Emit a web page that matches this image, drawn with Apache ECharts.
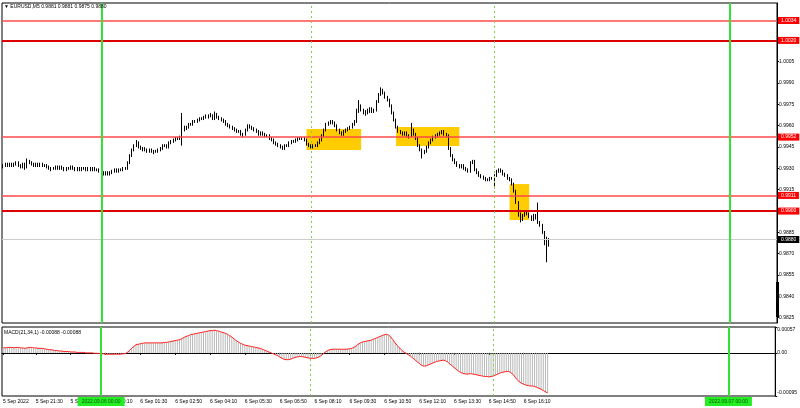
<!DOCTYPE html>
<html><head><meta charset="utf-8">
<script src="https://cdn.jsdelivr.net/npm/echarts@6/dist/echarts.min.js"></script>
<style>html,body{margin:0;padding:0;background:#fff}#c{width:800px;height:408px}</style>
</head><body><div id="c"></div><script>
// ---------- DATA ----------
const symbol = 'EURUSD,M5';
const firstBarUTC = [2022, 8, 5, 20, 15]; // 5 Sep 2022 20:15, M5 bars
const barCount = 355;                      // bars the time axis spans (incl. empty future)

const opens = [
0.9931,0.9932,0.9933,0.9932,0.9933,0.9932,0.9933,0.9934,0.9932,0.9931,
0.9933,0.9930,0.9935,0.9934,0.9933,0.9932,0.9933,0.9932,0.9933,0.9932,
0.9932,0.9931,0.9930,0.9930,0.9930,0.9931,0.9930,0.9931,0.9930,0.9929,
0.9930,0.9930,0.9931,0.9930,0.9929,0.9930,0.9929,0.9930,0.9930,0.9929,
0.9930,0.9929,0.9930,0.9929,0.9929,0.9928,0.9927,0.9926,0.9927,0.9926,
0.9927,0.9928,0.9929,0.9928,0.9929,0.9929,0.9930,0.9930,0.9934,0.9939,
0.9943,0.9946,0.9948,0.9945,0.9944,0.9944,0.9943,0.9942,0.9943,0.9942,
0.9942,0.9942,0.9943,0.9944,0.9946,0.9946,0.9945,0.9948,0.9949,0.9950,
0.9951,0.9951,0.9952,0.9957,0.9958,0.9959,0.9961,0.9961,0.9963,0.9963,
0.9964,0.9965,0.9965,0.9966,0.9966,0.9967,0.9967,0.9965,0.9968,0.9966,
0.9965,0.9964,0.9963,0.9961,0.9960,0.9959,0.9958,0.9957,0.9956,0.9956,
0.9954,0.9954,0.9957,0.9960,0.9959,0.9958,0.9957,0.9956,0.9954,0.9955,
0.9954,0.9953,0.9953,0.9951,0.9950,0.9948,0.9947,0.9946,0.9945,0.9944,
0.9946,0.9946,0.9948,0.9949,0.9949,0.9950,0.9951,0.9951,0.9951,0.9950,
0.9947,0.9946,0.9945,0.9946,0.9946,0.9948,0.9950,0.9953,0.9957,0.9961,
0.9962,0.9963,0.9962,0.9960,0.9957,0.9955,0.9954,0.9956,0.9957,0.9958,
0.9959,0.9961,0.9963,0.9970,0.9974,0.9971,0.9970,0.9969,0.9970,0.9972,
0.9970,0.9971,0.9977,0.9982,0.9985,0.9983,0.9980,0.9978,0.9974,0.9969,
0.9964,0.9959,0.9956,0.9955,0.9954,0.9955,0.9953,0.9953,0.9957,0.9954,
0.9951,0.9946,0.9943,0.9941,0.9942,0.9945,0.9948,0.9950,0.9952,0.9953,
0.9954,0.9955,0.9956,0.9954,0.9953,0.9944,0.9939,0.9936,0.9934,0.9932,
0.9931,0.9932,0.9930,0.9929,0.9928,0.9934,0.9935,0.9929,0.9927,0.9925,
0.9924,0.9923,0.9922,0.9922,0.9923,0.9923,0.9925,0.9928,0.9929,0.9928,
0.9926,0.9925,0.9923,0.9922,0.9919,0.9914,0.9906,0.9898,0.9894,0.9897,
0.9899,0.9898,0.9896,0.9894,0.9897,0.9895,0.9892,0.9890,0.9885,0.9878,
0.9881];
const highs = [
0.9933,0.9934,0.9934,0.9934,0.9934,0.9934,0.9935,0.9935,0.9933,0.9934,
0.9934,0.9937,0.9936,0.9935,0.9934,0.9934,0.9934,0.9934,0.9934,0.9933,
0.9933,0.9932,0.9931,0.9931,0.9932,0.9932,0.9932,0.9932,0.9931,0.9931,
0.9931,0.9932,0.9932,0.9931,0.9931,0.9931,0.9931,0.9931,0.9931,0.9931,
0.9931,0.9931,0.9931,0.9930,0.9930,0.9929,0.9928,0.9928,0.9928,0.9928,
0.9929,0.9930,0.9930,0.9930,0.9930,0.9931,0.9931,0.9935,0.9940,0.9944,
0.9947,0.9950,0.9949,0.9946,0.9945,0.9945,0.9944,0.9944,0.9944,0.9943,
0.9943,0.9944,0.9945,0.9947,0.9947,0.9947,0.9949,0.9950,0.9951,0.9952,
0.9952,0.9953,0.9969,0.9960,0.9960,0.9962,0.9962,0.9964,0.9964,0.9965,
0.9966,0.9966,0.9967,0.9968,0.9968,0.9969,0.9968,0.9970,0.9969,0.9967,
0.9966,0.9965,0.9964,0.9962,0.9961,0.9960,0.9959,0.9958,0.9957,0.9957,
0.9955,0.9958,0.9961,0.9961,0.9960,0.9959,0.9958,0.9957,0.9956,0.9956,
0.9955,0.9954,0.9954,0.9952,0.9951,0.9949,0.9948,0.9947,0.9946,0.9947,
0.9947,0.9949,0.9950,0.9950,0.9951,0.9952,0.9952,0.9952,0.9952,0.9951,
0.9948,0.9947,0.9947,0.9947,0.9949,0.9951,0.9954,0.9958,0.9962,0.9963,
0.9964,0.9964,0.9963,0.9961,0.9958,0.9956,0.9957,0.9958,0.9959,0.9960,
0.9962,0.9964,0.9972,0.9978,0.9975,0.9972,0.9971,0.9972,0.9973,0.9973,
0.9972,0.9978,0.9983,0.9987,0.9986,0.9984,0.9981,0.9979,0.9975,0.9970,
0.9965,0.9960,0.9957,0.9956,0.9956,0.9956,0.9954,0.9962,0.9958,0.9955,
0.9952,0.9947,0.9944,0.9943,0.9946,0.9949,0.9951,0.9953,0.9954,0.9955,
0.9956,0.9957,0.9957,0.9955,0.9954,0.9945,0.9940,0.9937,0.9935,0.9933,
0.9933,0.9933,0.9931,0.9930,0.9935,0.9936,0.9936,0.9930,0.9928,0.9926,
0.9925,0.9924,0.9923,0.9924,0.9924,0.9926,0.9929,0.9930,0.9930,0.9929,
0.9927,0.9926,0.9924,0.9923,0.9920,0.9915,0.9907,0.9899,0.9898,0.9900,
0.9900,0.9899,0.9897,0.9898,0.9898,0.9906,0.9893,0.9891,0.9886,0.9882,
0.9881];
const lows = [
0.9930,0.9931,0.9931,0.9931,0.9931,0.9931,0.9932,0.9931,0.9930,0.9930,
0.9929,0.9930,0.9933,0.9932,0.9931,0.9931,0.9931,0.9931,0.9931,0.9931,
0.9930,0.9929,0.9928,0.9929,0.9929,0.9929,0.9929,0.9929,0.9928,0.9928,
0.9929,0.9929,0.9929,0.9928,0.9928,0.9928,0.9928,0.9929,0.9928,0.9928,
0.9928,0.9928,0.9928,0.9928,0.9927,0.9926,0.9925,0.9925,0.9925,0.9925,
0.9926,0.9927,0.9927,0.9927,0.9928,0.9928,0.9929,0.9929,0.9933,0.9938,
0.9942,0.9945,0.9944,0.9943,0.9942,0.9942,0.9941,0.9941,0.9941,0.9940,
0.9941,0.9941,0.9942,0.9943,0.9945,0.9944,0.9944,0.9947,0.9948,0.9949,
0.9950,0.9950,0.9946,0.9956,0.9957,0.9958,0.9960,0.9960,0.9962,0.9962,
0.9963,0.9964,0.9964,0.9965,0.9965,0.9966,0.9964,0.9964,0.9965,0.9964,
0.9963,0.9962,0.9960,0.9959,0.9958,0.9957,0.9956,0.9955,0.9955,0.9953,
0.9952,0.9953,0.9956,0.9958,0.9957,0.9956,0.9955,0.9953,0.9953,0.9953,
0.9952,0.9952,0.9950,0.9949,0.9947,0.9946,0.9945,0.9944,0.9943,0.9943,
0.9945,0.9945,0.9947,0.9948,0.9948,0.9949,0.9950,0.9950,0.9949,0.9946,
0.9945,0.9944,0.9944,0.9945,0.9945,0.9947,0.9949,0.9952,0.9956,0.9960,
0.9961,0.9961,0.9959,0.9956,0.9954,0.9953,0.9953,0.9955,0.9956,0.9957,
0.9958,0.9960,0.9962,0.9969,0.9970,0.9968,0.9967,0.9968,0.9969,0.9969,
0.9969,0.9970,0.9976,0.9981,0.9982,0.9979,0.9977,0.9973,0.9968,0.9963,
0.9958,0.9955,0.9954,0.9953,0.9953,0.9952,0.9951,0.9952,0.9953,0.9950,
0.9945,0.9942,0.9937,0.9940,0.9941,0.9944,0.9947,0.9949,0.9951,0.9952,
0.9953,0.9954,0.9953,0.9952,0.9943,0.9938,0.9935,0.9933,0.9931,0.9930,
0.9930,0.9929,0.9928,0.9927,0.9927,0.9933,0.9928,0.9926,0.9924,0.9923,
0.9922,0.9921,0.9921,0.9921,0.9922,0.9916,0.9924,0.9927,0.9927,0.9925,
0.9924,0.9922,0.9921,0.9918,0.9913,0.9905,0.9896,0.9892,0.9893,0.9896,
0.9897,0.9895,0.9893,0.9893,0.9894,0.9891,0.9889,0.9884,0.9876,0.9864,
0.9875];
const closes = [
0.9932,0.9933,0.9932,0.9933,0.9932,0.9933,0.9934,0.9932,0.9931,0.9933,
0.9930,0.9935,0.9934,0.9933,0.9932,0.9933,0.9932,0.9933,0.9932,0.9932,
0.9931,0.9930,0.9930,0.9930,0.9931,0.9930,0.9931,0.9930,0.9929,0.9930,
0.9930,0.9931,0.9930,0.9929,0.9930,0.9929,0.9930,0.9930,0.9929,0.9930,
0.9929,0.9930,0.9929,0.9929,0.9928,0.9927,0.9926,0.9927,0.9926,0.9927,
0.9928,0.9929,0.9928,0.9929,0.9929,0.9930,0.9930,0.9934,0.9939,0.9943,
0.9946,0.9948,0.9945,0.9944,0.9944,0.9943,0.9942,0.9943,0.9942,0.9942,
0.9942,0.9943,0.9944,0.9946,0.9946,0.9945,0.9948,0.9949,0.9950,0.9951,
0.9951,0.9952,0.9957,0.9958,0.9959,0.9961,0.9961,0.9963,0.9963,0.9964,
0.9965,0.9965,0.9966,0.9966,0.9967,0.9967,0.9965,0.9968,0.9966,0.9965,
0.9964,0.9963,0.9961,0.9960,0.9959,0.9958,0.9957,0.9956,0.9956,0.9954,
0.9954,0.9957,0.9960,0.9959,0.9958,0.9957,0.9956,0.9954,0.9955,0.9954,
0.9953,0.9953,0.9951,0.9950,0.9948,0.9947,0.9946,0.9945,0.9944,0.9946,
0.9946,0.9948,0.9949,0.9949,0.9950,0.9951,0.9951,0.9951,0.9950,0.9947,
0.9946,0.9945,0.9946,0.9946,0.9948,0.9950,0.9953,0.9957,0.9961,0.9962,
0.9963,0.9962,0.9960,0.9957,0.9955,0.9954,0.9956,0.9957,0.9958,0.9959,
0.9961,0.9963,0.9970,0.9974,0.9971,0.9970,0.9969,0.9970,0.9972,0.9970,
0.9971,0.9977,0.9982,0.9985,0.9983,0.9980,0.9978,0.9974,0.9969,0.9964,
0.9959,0.9956,0.9955,0.9954,0.9955,0.9953,0.9953,0.9957,0.9954,0.9951,
0.9946,0.9943,0.9941,0.9942,0.9945,0.9948,0.9950,0.9952,0.9953,0.9954,
0.9955,0.9956,0.9954,0.9953,0.9944,0.9939,0.9936,0.9934,0.9932,0.9931,
0.9932,0.9930,0.9929,0.9928,0.9934,0.9935,0.9929,0.9927,0.9925,0.9924,
0.9923,0.9922,0.9922,0.9923,0.9923,0.9925,0.9928,0.9929,0.9928,0.9926,
0.9925,0.9923,0.9922,0.9919,0.9914,0.9906,0.9898,0.9894,0.9897,0.9899,
0.9898,0.9896,0.9894,0.9897,0.9895,0.9892,0.9890,0.9885,0.9878,0.9881,
0.9880];
// MACD(21,34,1) main line (signal period 1 => signal equals main)
const macd = [
0.00011,0.00011,0.00012,0.00012,0.00012,0.00011,0.00012,0.00012,0.00011,0.00011,
0.00010,0.00011,0.00012,0.00012,0.00011,0.00011,0.00010,0.00010,0.00010,0.00009,
0.00008,0.00007,0.00007,0.00006,0.00005,0.00005,0.00004,0.00004,0.00003,0.00003,
0.00003,0.00002,0.00002,0.00002,0.00001,0.00001,0.00001,0.00001,0.00000,0.00000,
0.00000,0.00000,-0.00001,-0.00001,-0.00001,-0.00002,-0.00002,-0.00003,-0.00003,-0.00003,
-0.00003,-0.00003,-0.00003,-0.00003,-0.00003,-0.00002,-0.00002,0.00001,0.00005,0.00010,
0.00014,0.00018,0.00019,0.00020,0.00021,0.00022,0.00022,0.00022,0.00022,0.00022,
0.00022,0.00022,0.00022,0.00022,0.00023,0.00023,0.00024,0.00025,0.00026,0.00027,
0.00028,0.00029,0.00031,0.00034,0.00036,0.00038,0.00040,0.00041,0.00042,0.00043,
0.00044,0.00045,0.00046,0.00047,0.00048,0.00049,0.00049,0.00050,0.00049,0.00048,
0.00046,0.00045,0.00043,0.00041,0.00038,0.00035,0.00031,0.00027,0.00024,0.00021,
0.00019,0.00017,0.00016,0.00015,0.00014,0.00013,0.00012,0.00011,0.00010,0.00008,
0.00006,0.00004,0.00002,0.00000,-0.00002,-0.00004,-0.00006,-0.00009,-0.00012,-0.00014,
-0.00015,-0.00015,-0.00014,-0.00012,-0.00010,-0.00009,-0.00008,-0.00008,-0.00009,-0.00010,
-0.00011,-0.00012,-0.00012,-0.00012,-0.00011,-0.00009,-0.00006,-0.00002,0.00002,0.00005,
0.00007,0.00008,0.00008,0.00008,0.00008,0.00008,0.00008,0.00008,0.00008,0.00009,
0.00010,0.00012,0.00015,0.00019,0.00022,0.00024,0.00025,0.00026,0.00027,0.00028,
0.00030,0.00032,0.00034,0.00036,0.00038,0.00040,0.00041,0.00039,0.00035,0.00029,
0.00022,0.00016,0.00011,0.00006,0.00002,-0.00001,-0.00004,-0.00007,-0.00011,-0.00015,
-0.00019,-0.00023,-0.00027,-0.00029,-0.00029,-0.00027,-0.00025,-0.00023,-0.00021,-0.00019,
-0.00018,-0.00017,-0.00016,-0.00017,-0.00020,-0.00024,-0.00028,-0.00032,-0.00036,-0.00040,
-0.00043,-0.00045,-0.00046,-0.00047,-0.00046,-0.00046,-0.00047,-0.00048,-0.00049,-0.00050,
-0.00051,-0.00052,-0.00052,-0.00053,-0.00052,-0.00051,-0.00049,-0.00047,-0.00045,-0.00043,
-0.00042,-0.00041,-0.00041,-0.00043,-0.00047,-0.00053,-0.00059,-0.00064,-0.00067,-0.00069,
-0.00071,-0.00072,-0.00073,-0.00073,-0.00074,-0.00076,-0.00078,-0.00080,-0.00083,-0.00086,
-0.00088];

// price scale tick labels and window ranges
const priceTicks = [1.0005,0.9990,0.9975,0.9960,0.9945,0.9930,0.9915,0.9885,0.9870,0.9855,0.9840,0.9825];
const priceMin = 0.98213, priceMax = 1.00463;
const macdTicks = [0.00057, 0, -0.00095];
const macdMin = -0.00095, macdMax = 0.00057;

// time axis tick labels
const timeTicks = [
  ['2022.09.05 20:15','5 Sep 2022'], ['2022.09.05 21:30','5 Sep 21:30'], ['2022.09.05 22:50','5 Sep 22:50'],
  ['2022.09.06 00:10','6 Sep 00:10'], ['2022.09.06 01:30','6 Sep 01:30'], ['2022.09.06 02:50','6 Sep 02:50'],
  ['2022.09.06 04:10','6 Sep 04:10'], ['2022.09.06 05:30','6 Sep 05:30'], ['2022.09.06 06:50','6 Sep 06:50'],
  ['2022.09.06 08:10','6 Sep 08:10'], ['2022.09.06 09:30','6 Sep 09:30'], ['2022.09.06 10:50','6 Sep 10:50'],
  ['2022.09.06 12:10','6 Sep 12:10'], ['2022.09.06 13:30','6 Sep 13:30'], ['2022.09.06 14:50','6 Sep 14:50'],
  ['2022.09.06 16:10','6 Sep 16:10']];

// horizontal levels
const keyLevels = [1.0020, 0.9900];          // main support/resistance
const targetLevels = [1.0034, 0.9952, 0.9911];
const bidPrice = 0.9880;

// vertical markers
const dayStarts = ['2022.09.06 00:00', '2022.09.07 00:00'];
const sessionMarks = ['2022.09.06 08:00', '2022.09.06 15:00'];

// highlighted zones
const zoneFrom = ['2022.09.06 07:50', '2022.09.06 11:15', '2022.09.06 15:35'];
const zoneTo   = ['2022.09.06 09:55', '2022.09.06 13:40', '2022.09.06 16:20'];
const zoneTop  = [0.99577, 0.99591, 0.99190];
const zoneBot  = [0.99429, 0.99457, 0.98937];

// ---------- BUILD ----------
function pad(n){return (n<10?'0':'')+n;}
const t0 = Date.UTC.apply(null, firstBarUTC);
const cats = [];
for (let i = 0; i < barCount; i++) {
  const d = new Date(t0 + i * 300000);
  cats.push(d.getUTCFullYear()+'.'+pad(d.getUTCMonth()+1)+'.'+pad(d.getUTCDate())+' '+pad(d.getUTCHours())+':'+pad(d.getUTCMinutes()));
}
const tickMap = {}; timeTicks.forEach(t => tickMap[t[0]] = t[1]);
const candles = opens.map((o, i) => [o, closes[i], lows[i], highs[i]]);
const last = closes.length - 1;
const FONT = 'Liberation Sans';

const levelLabel = (bg) => ({show:true, position:'end', distance:1, formatter: p => p.value.toFixed(4),
  backgroundColor: bg, color:'#fff', fontSize:5, fontFamily:FONT, padding:[1,3,1,3]});

const mainLines = [];
keyLevels.forEach(v => mainLines.push({yAxis:v, lineStyle:{color:'#dd0000', width:2, type:'solid', opacity:1}, label: levelLabel('#ff0000')}));
targetLevels.forEach(v => mainLines.push({yAxis:v, lineStyle:{color:'#ff4a4a', width:1.6, type:'solid', opacity:1}, label: levelLabel('#ff0000')}));
mainLines.push({yAxis:bidPrice, lineStyle:{color:'#cccccc', width:1, type:'solid', opacity:1}, label: levelLabel('#000')});
dayStarts.forEach(v => mainLines.push({xAxis:v, lineStyle:{color:'#33e233', width:2, type:'solid', opacity:1}, label:{show:false}}));
sessionMarks.forEach(v => mainLines.push({xAxis:v, lineStyle:{color:'#80d040', width:1, type:[2,3], opacity:1}, label:{show:false}}));

const macdLines = [];
dayStarts.forEach(v => macdLines.push({xAxis:v, name:v, lineStyle:{color:'#33e233', width:2, type:'solid', opacity:1},
  label:{show:true, position:'start', distance:1, formatter:'{b}', backgroundColor:'#22ee22', color:'#115511',
         fontSize:5, fontFamily:FONT, padding:[2,4,2,4]}}));
sessionMarks.forEach(v => macdLines.push({xAxis:v, lineStyle:{color:'#80d040', width:1, type:[2,3], opacity:1}, label:{show:false}}));

const zones = zoneFrom.map((f, i) => [{xAxis:f, yAxis:zoneTop[i]}, {xAxis:zoneTo[i], yAxis:zoneBot[i]}]);

const chart = echarts.init(document.getElementById('c'), null, {renderer:'canvas'});
chart.setOption({
  animation:false,
  backgroundColor:'#fff',
  textStyle:{fontFamily:FONT},
  title:[
    {text:'▼ '+symbol+' '+opens[last].toFixed(4)+' '+highs[last].toFixed(4)+' '+lows[last].toFixed(4)+' '+closes[last].toFixed(4),
     left:4, top:4, padding:0, textStyle:{fontSize:5, fontWeight:'normal', color:'#000', fontFamily:FONT}},
    {text:'MACD(21,34,1) '+macd[last].toFixed(5)+' '+macd[last].toFixed(5),
     left:4, top:330, padding:0, textStyle:{fontSize:5, fontWeight:'normal', color:'#000', fontFamily:FONT}}
  ],
  grid:[
    {left:2, top:3, width:775, height:320, show:true, borderColor:'#000', borderWidth:1},
    {left:2, top:327, width:775, height:69, show:true, borderColor:'#000', borderWidth:1}
  ],
  xAxis:[
    {type:'category', gridIndex:0, data:cats, boundaryGap:true, axisLine:{show:false}, axisTick:{show:false}, axisLabel:{show:false}, splitLine:{show:false}},
    {type:'category', gridIndex:1, data:cats, boundaryGap:true,
     axisLine:{show:true, lineStyle:{color:'#000'}},
     axisTick:{show:true, alignWithLabel:true, length:2, interval:(i, v) => tickMap.hasOwnProperty(v), lineStyle:{color:'#000'}},
     axisLabel:{show:true, interval:(i, v) => tickMap.hasOwnProperty(v), formatter: v => tickMap[v] || '',
       align:'left', fontSize:5, color:'#000', margin:3, fontFamily:FONT, hideOverlap:false},
     splitLine:{show:false}}
  ],
  yAxis:[
    {type:'value', gridIndex:0, position:'right', min:priceMin, max:priceMax, scale:true,
     splitLine:{show:false}, axisLine:{show:true, lineStyle:{color:'#000'}},
     axisTick:{show:true, length:2, customValues:priceTicks, lineStyle:{color:'#000'}},
     axisLabel:{customValues:priceTicks, formatter: v => v.toFixed(4), fontSize:5, color:'#000', margin:2, fontFamily:FONT}},
    {type:'value', gridIndex:1, position:'right', min:macdMin, max:macdMax,
     splitLine:{show:false}, axisLine:{show:true, lineStyle:{color:'#000'}},
     axisTick:{show:true, length:2, customValues:macdTicks, lineStyle:{color:'#000'}},
     axisLabel:{customValues:macdTicks,
       formatter: v => v === 0 ? '0.00' : (v > 0 ? '{t|' + v.toFixed(5) + '}' : '{b|' + v.toFixed(5) + '}'),
       rich:{t:{fontSize:5, padding:[6,0,0,0], color:'#000'}, b:{fontSize:5, padding:[0,0,6,0], color:'#000'}},
       fontSize:5, color:'#000', margin:2, fontFamily:FONT}}
  ],
  series:[
    {type:'candlestick', name:symbol, xAxisIndex:0, yAxisIndex:0, data:candles, barWidth:1,
     itemStyle:{color:'#000', color0:'#000', borderColor:'#000', borderColor0:'#000', borderWidth:1},
     markArea:{silent:true, itemStyle:{color:'#ffcc00'}, data:zones},
     markLine:{silent:true, symbol:['none','none'], precision:5, data:mainLines}},
    {type:'bar', name:'MACD', xAxisIndex:1, yAxisIndex:1, data:macd, barWidth:1,
     itemStyle:{color:'#b8b8b8'},
     markLine:{silent:true, symbol:['none','none'], data:macdLines}},
    {type:'line', name:'Signal', xAxisIndex:1, yAxisIndex:1, data:macd, showSymbol:false, symbol:'none',
     lineStyle:{color:'#ff2020', width:1}}
  ],
  graphic:[
    {type:'rect', shape:{x:776, y:282, width:3, height:35}, style:{fill:'#000'}, silent:true}
  ]
});
</script></body></html>
